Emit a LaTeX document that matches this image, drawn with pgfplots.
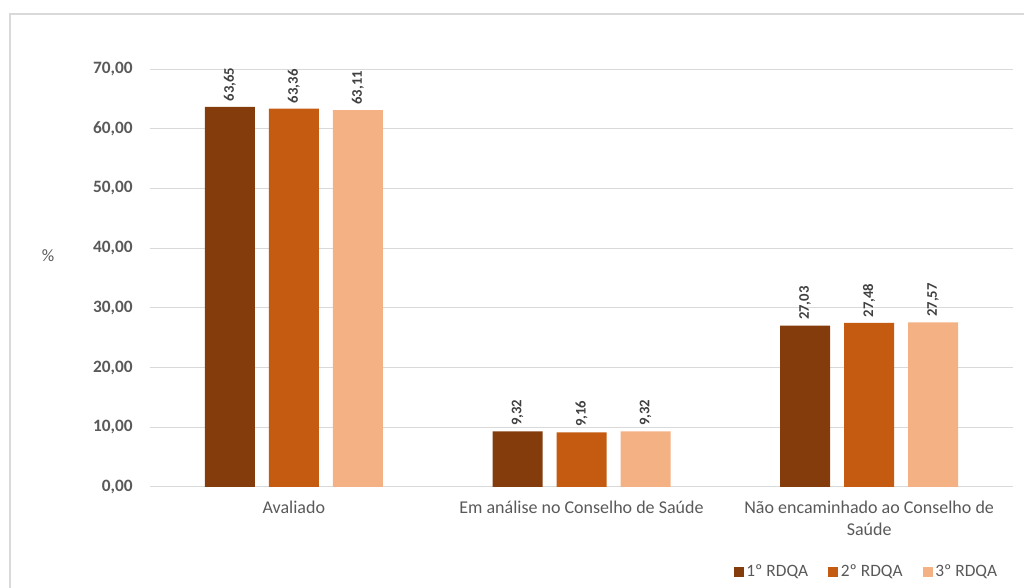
\documentclass[border=0pt]{standalone}
\usepackage{fontspec}
\setmainfont{Carlito}
\usepackage{pgfplots}
\pgfplotsset{compat=1.18}
\definecolor{c1}{HTML}{843C0C}
\definecolor{c2}{HTML}{C55A11}
\definecolor{c3}{HTML}{F4B183}
\definecolor{tickgray}{HTML}{595959}
\definecolor{labelgray}{HTML}{404040}
\definecolor{gridgray}{HTML}{D9D9D9}
\definecolor{framegray}{HTML}{D9D9D9}
\begin{document}
\begin{tikzpicture}
\useasboundingbox (0pt,0pt) rectangle (768pt,441pt);
\draw[color=framegray, line width=0.9pt] (7.5pt,0pt) -- (7.5pt,430.5pt) -- (768pt,430.5pt);
\node[text=tickgray, font=\fontsize{13}{15}\selectfont] at (36pt,249pt) {\%};
\begin{axis}[
  at={(112.5pt,75.75pt)}, anchor=south west,
  scale only axis, width=647.25pt, height=313.5pt,
  ybar=10.5pt, bar width=37.5pt,
  ymin=0, ymax=70, xmin=-0.5, xmax=2.5,
  xtick={0,1,2},
  xticklabels={Avaliado, Em análise no Conselho de Saúde, {Não encaminhado ao Conselho de\\Saúde}},
  ytick={0,10,20,30,40,50,60,70},
  ymajorgrids, grid style={color=gridgray, line width=0.75pt},
  axis line style={draw=none},
  major tick length=0pt,
  /pgf/number format/assume math mode=true,
  yticklabel style={/pgf/number format/.cd, fixed, fixed zerofill, precision=2, use comma, /tikz/.cd,
    font=\bfseries\fontsize{13}{15}\selectfont, text=tickgray, anchor=east, inner sep=0pt, xshift=-12.75pt},
  xticklabel style={font=\fontsize{13.5}{16.5}\selectfont, text=tickgray, align=center, anchor=north, inner sep=0pt, yshift=-10pt},
  nodes near coords={\pgfmathprintnumber[fixed,fixed zerofill,precision=2,use comma]{\pgfplotspointmeta}},
  every node near coord/.append style={rotate=90, anchor=west, font=\bfseries\fontsize{11}{13}\selectfont, text=labelgray, inner sep=4pt},
  legend style={at={(axis description cs:0.985,-0.203)}, anchor=east, draw=none, fill=none,
    legend columns=3, font=\fontsize{13}{15}\selectfont, text=tickgray, inner sep=0pt,
    /tikz/every even column/.append style={column sep=13pt}},
  legend image code/.code={\fill[#1] (0pt,-3.75pt) rectangle (7.5pt,3.75pt);},
]
\addplot[fill=c1, draw=none] coordinates {(0,63.65) (1,9.32) (2,27.03)};
\addplot[fill=c2, draw=none] coordinates {(0,63.36) (1,9.16) (2,27.48)};
\addplot[fill=c3, draw=none] coordinates {(0,63.11) (1,9.32) (2,27.57)};
\legend{1º RDQA, 2º RDQA, 3º RDQA}
\end{axis}
\end{tikzpicture}
\end{document}
